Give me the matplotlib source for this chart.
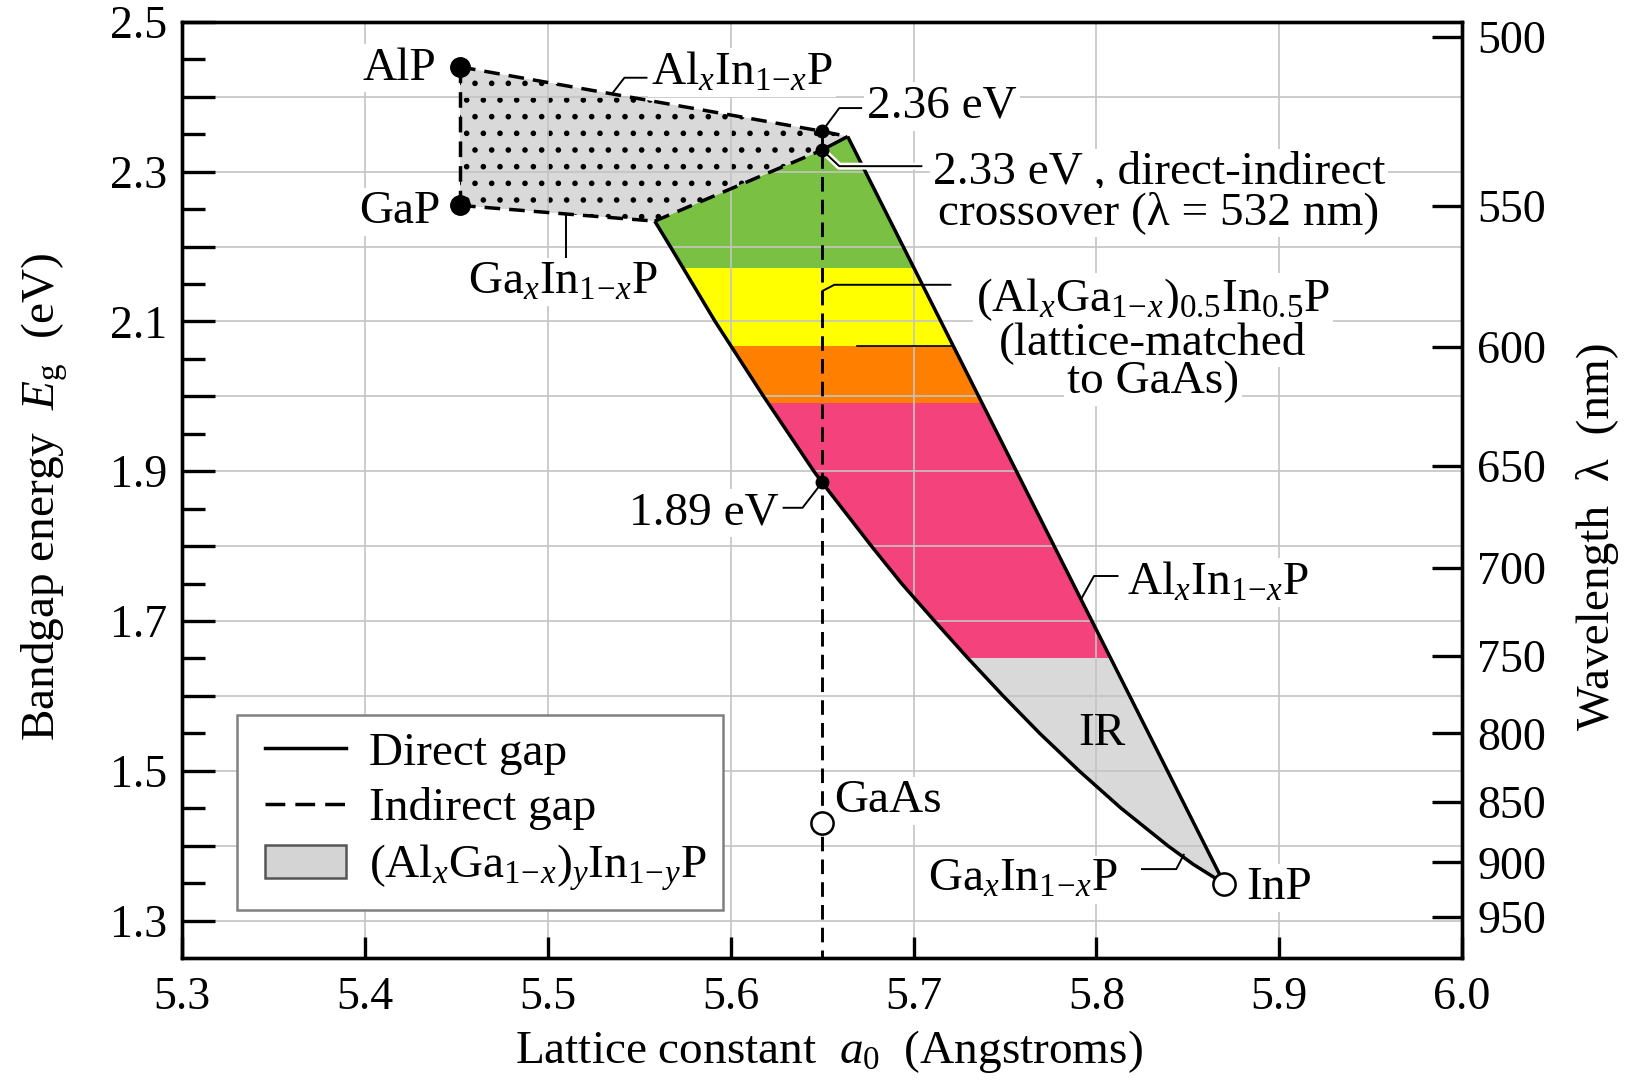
import numpy as np
import matplotlib.pyplot as plt
import matplotlib.patheffects as pe
from matplotlib.patches import Polygon, Patch
from matplotlib.lines import Line2D
from matplotlib.legend_handler import HandlerLine2D, HandlerPatch

plt.rcParams['font.family'] = ['Liberation Serif', 'DejaVu Serif']
plt.rcParams['mathtext.fontset'] = 'custom'
plt.rcParams['mathtext.rm'] = 'Liberation Serif'
plt.rcParams['mathtext.it'] = 'Liberation Serif:italic'
plt.rcParams['mathtext.bf'] = 'Liberation Serif:bold'
plt.rcParams['hatch.linewidth'] = 1.6
plt.rcParams['hatch.color'] = 'black'

# binary compounds: (lattice constant in Angstrom, bandgap in eV)
alp = (5.452, 2.440)
gap = (5.452, 2.255)
gaas = (5.650, 1.430)
inp = (5.870, 1.349)

# indirect-gap edges
alinp_indirect_a = [5.452, 5.650, 5.664]
alinp_indirect_e = [2.440, 2.354, 2.347]
gainp_indirect_a = [5.452, 5.5585]
gainp_indirect_e = [2.255, 2.234]
crossover_a = [5.5585, 5.650, 5.664]
crossover_e = [2.234, 2.329, 2.347]

# direct-gap edges
alinp_direct_a = [5.664, 5.870]
alinp_direct_e = [2.347, 1.349]
gainp_direct_a = [5.5585, 5.567, 5.5915, 5.618, 5.6455, 5.650, 5.677, 5.6935,
                  5.7115, 5.7295, 5.749, 5.769, 5.7905, 5.8135, 5.839, 5.853, 5.870]
gainp_direct_e = [2.234, 2.200, 2.100, 2.000, 1.900, 1.885, 1.800, 1.750,
                  1.700, 1.651, 1.600, 1.550, 1.500, 1.450, 1.400, 1.375, 1.349]

# points on the line lattice-matched to GaAs
matched_a = 5.650
e_236 = 2.354
e_233 = 2.329
e_189 = 1.885

# visible colour bands (eV limits, top to bottom)
band_edges = [2.50, 2.172, 2.067, 1.991, 1.651, 1.25]
band_colors = ['#7ac143', '#ffff00', '#ff8000', '#f4427c', '#d9d9d9']

lattice_ticks = [5.3, 5.4, 5.5, 5.6, 5.7, 5.8, 5.9, 6.0]
lattice_labels = ['5.3', '5.4', '5.5', '5.6', '5.7', '5.8', '5.9', '6.0']
energy_ticks = [1.3, 1.4, 1.5, 1.6, 1.7, 1.8, 1.9, 2.0, 2.1, 2.2, 2.3, 2.4, 2.5]
energy_labels = ['1.3', '', '1.5', '', '1.7', '', '1.9', '', '2.1', '', '2.3', '', '2.5']
energy_minor = [1.35, 1.45, 1.55, 1.65, 1.75, 1.85, 1.95, 2.05, 2.15, 2.25, 2.35, 2.45]
wavelength_ticks = [500, 550, 600, 650, 700, 750, 800, 850, 900, 950]

fs = 34
alinp = r'Al$_x$In$_{1\!-\!x}$P'
gainp = r'Ga$_x$In$_{1\!-\!x}$P'

fig = plt.figure(figsize=(16.3, 10.81), dpi=100)
ax = fig.add_axes([0.1117, 0.1138, 0.7853, 0.8659])
ax.set_xlim(5.3, 6.0)
ax.set_ylim(1.25, 2.5)

# direct-gap quaternary region with colour bands
direct_poly = np.column_stack([
    crossover_a + alinp_direct_a[1:] + gainp_direct_a[-2:0:-1],
    crossover_e + alinp_direct_e[1:] + gainp_direct_e[-2:0:-1]])
region = Polygon(direct_poly, closed=True, fc='none', ec='none')
ax.add_patch(region)
for top, bottom, color in zip(band_edges[:-1], band_edges[1:], band_colors):
    band = ax.axhspan(bottom, top, color=color, lw=0, zorder=1)
    band.set_clip_path(region)

# indirect-gap region (dotted)
dotted_poly = np.column_stack([
    alinp_indirect_a + crossover_a[-2::-1] + gainp_indirect_a[::-1],
    alinp_indirect_e + crossover_e[-2::-1] + gainp_indirect_e[::-1]])
ax.add_patch(Polygon(dotted_poly, closed=True, fc='#d9d9d9', ec='black',
                     lw=0, hatch='.', zorder=1))

solid = dict(color='black', lw=2.5, solid_capstyle='butt', solid_joinstyle='round', zorder=4)
dashed = dict(color='black', lw=2.5, ls=(0, (4.5, 2.6)), zorder=4)
ax.plot(alinp_direct_a, alinp_direct_e, **solid)
ax.plot(gainp_direct_a, gainp_direct_e, **solid)
ax.plot([alp[0], gap[0]], [alp[1], gap[1]], **dashed)
ax.plot(alinp_indirect_a, alinp_indirect_e, **dashed)
ax.plot(gainp_indirect_a, gainp_indirect_e, **dashed)
ax.plot(crossover_a[:2], crossover_e[:2], **dashed)
ax.plot(crossover_a[1:], crossover_e[1:], **solid)
ax.plot([matched_a, matched_a], [e_236, 1.25], color='black', lw=2.1,
        ls=(0, (5, 2.8)), zorder=4)
ax.plot([5.669, 5.7205], [band_edges[2], band_edges[2]], color='black', lw=1.2, zorder=3)

ax.plot([alp[0], gap[0]], [alp[1], gap[1]], 'o', color='black', ms=14, zorder=6)
ax.plot([matched_a] * 3, [e_236, e_233, e_189], 'o', color='black', ms=9, zorder=6)
ax.plot([gaas[0], inp[0]], [gaas[1], inp[1]], 'o', mfc='white', mec='black',
        mew=1.8, ms=16, zorder=6)

wbox = dict(boxstyle='square,pad=0.06', fc='white', ec='none')


def label(x, y, s, ha='left', va='baseline', box=True):
    ax.text(x, y, s, ha=ha, va=va, fontsize=fs, zorder=5,
            bbox=wbox if box else None)


def leader(xs, ys, halo=False):
    kw = dict(color='black', lw=1.4, zorder=4.5, solid_capstyle='butt')
    if halo:
        kw['path_effects'] = [pe.withStroke(linewidth=5, foreground='white')]
    ax.plot(xs, ys, **kw)


label(5.439, 2.423, 'AlP', ha='right')
label(5.4414, 2.2317, 'GaP', ha='right')

leader([5.5355, 5.5419, 5.5545], [2.4053, 2.4255, 2.4255])
label(5.5565, 2.4164, alinp)

leader([matched_a, 5.6594, 5.6719], [e_236, 2.385, 2.385])
label(5.6747, 2.372, '2.36 eV')

leader([matched_a, 5.6594, 5.7048], [e_233, 2.3074, 2.3074], halo=True)
label(5.8342, 2.2835, '2.33 eV , direct-indirect', ha='center')
label(5.8342, 2.230, 'crossover (λ = 532 nm)', ha='center')

leader([5.510, 5.510], [2.2436, 2.1849])
label(5.508, 2.1377, gainp, ha='center')

leader([matched_a, 5.6567, 5.7207], [2.1405, 2.149, 2.149])
label(5.8309, 2.1141, r'(Al$_x$Ga$_{1\!-\!x}$)$_{0.5}$In$_{0.5}$P', ha='center')
label(5.8309, 2.0563, '(lattice-matched', ha='center')
label(5.8309, 2.0044, 'to GaAs)', ha='center')

leader([matched_a, 5.6393, 5.6284], [e_189, 1.8512, 1.8512])
label(5.6262, 1.8295, '1.89 eV', ha='right')

leader([5.7916, 5.7987, 5.8121], [1.729, 1.7601, 1.7601])
label(5.8166, 1.7358, alinp)

label(5.803, 1.549, 'IR', ha='center', va='center', box=False)
label(5.6565, 1.445, 'GaAs')
label(5.8822, 1.3284, 'InP')

leader([5.848, 5.8437, 5.8244], [1.389, 1.3687, 1.3687])
label(5.708, 1.3395, gainp)

# axes, ticks, grid
ax.set_xticks(lattice_ticks, lattice_labels)
ax.set_yticks(energy_ticks, energy_labels)
ax.set_yticks(energy_minor, minor=True)
ax.tick_params(axis='x', which='major', direction='in', length=15, width=2.4,
               pad=13, labelsize=33, top=False)
ax.tick_params(axis='y', which='major', direction='in', length=24, width=2.4,
               pad=10.5, labelsize=33, right=False)
ax.tick_params(axis='y', which='minor', direction='in', length=16.5, width=2.4,
               right=False)
ax.grid(True, which='major', color='#c4c4c4', lw=1.2)
for sp in ax.spines.values():
    sp.set_linewidth(2.4)

ax.set_xlabel(r'Lattice constant  $a_0$  (Angstroms)', fontsize=fs, va='baseline')
ax.xaxis.set_label_coords(0.5055, -0.1122)
ax.set_ylabel(r'Bandgap energy  $E_\mathrm{g}$  (eV)', fontsize=fs, va='center')
ax.yaxis.set_label_coords(-0.107, 0.493)

ax2 = ax.twinx()
ax2.set_ylim(ax.get_ylim())
ax2.set_yticks([1239.84 / w for w in wavelength_ticks],
               [str(w) for w in wavelength_ticks])
ax2.tick_params(axis='y', direction='in', length=21.6, width=2.4, pad=11,
                labelsize=33)
for sp in ax2.spines.values():
    sp.set_linewidth(2.4)
ax2.set_ylabel('Wavelength  λ  (nm)', fontsize=fs, va='center')
ax2.yaxis.set_label_coords(1.106, 0.451)

handles = [Line2D([], [], color='black', lw=2.5),
           Line2D([], [], color='black', lw=2.5, ls=(0, (5.7, 2.9))),
           Patch(facecolor='#d4d4d4', edgecolor='#555555', lw=1.8)]
names = ['Direct gap', 'Indirect gap',
         r'(Al$_x$Ga$_{1\!-\!x}$)$_y$In$_{1\!-\!y}$P']
leg = ax.legend(handles, names, loc='upper left', bbox_to_anchor=(0.043, 0.2596),
                borderaxespad=0, fontsize=fs, frameon=True, fancybox=False,
                edgecolor='#808080', framealpha=1, handlelength=1.95,
                handletextpad=0.5, labelspacing=0.27, borderpad=0.35,
                handler_map={Line2D: HandlerLine2D(xpad=0.25),
                             Patch: HandlerPatch(xpad=0.25)})
leg.get_frame().set_linewidth(1.8)
leg.set_zorder(7)

fig.savefig('out.png', dpi=100)
